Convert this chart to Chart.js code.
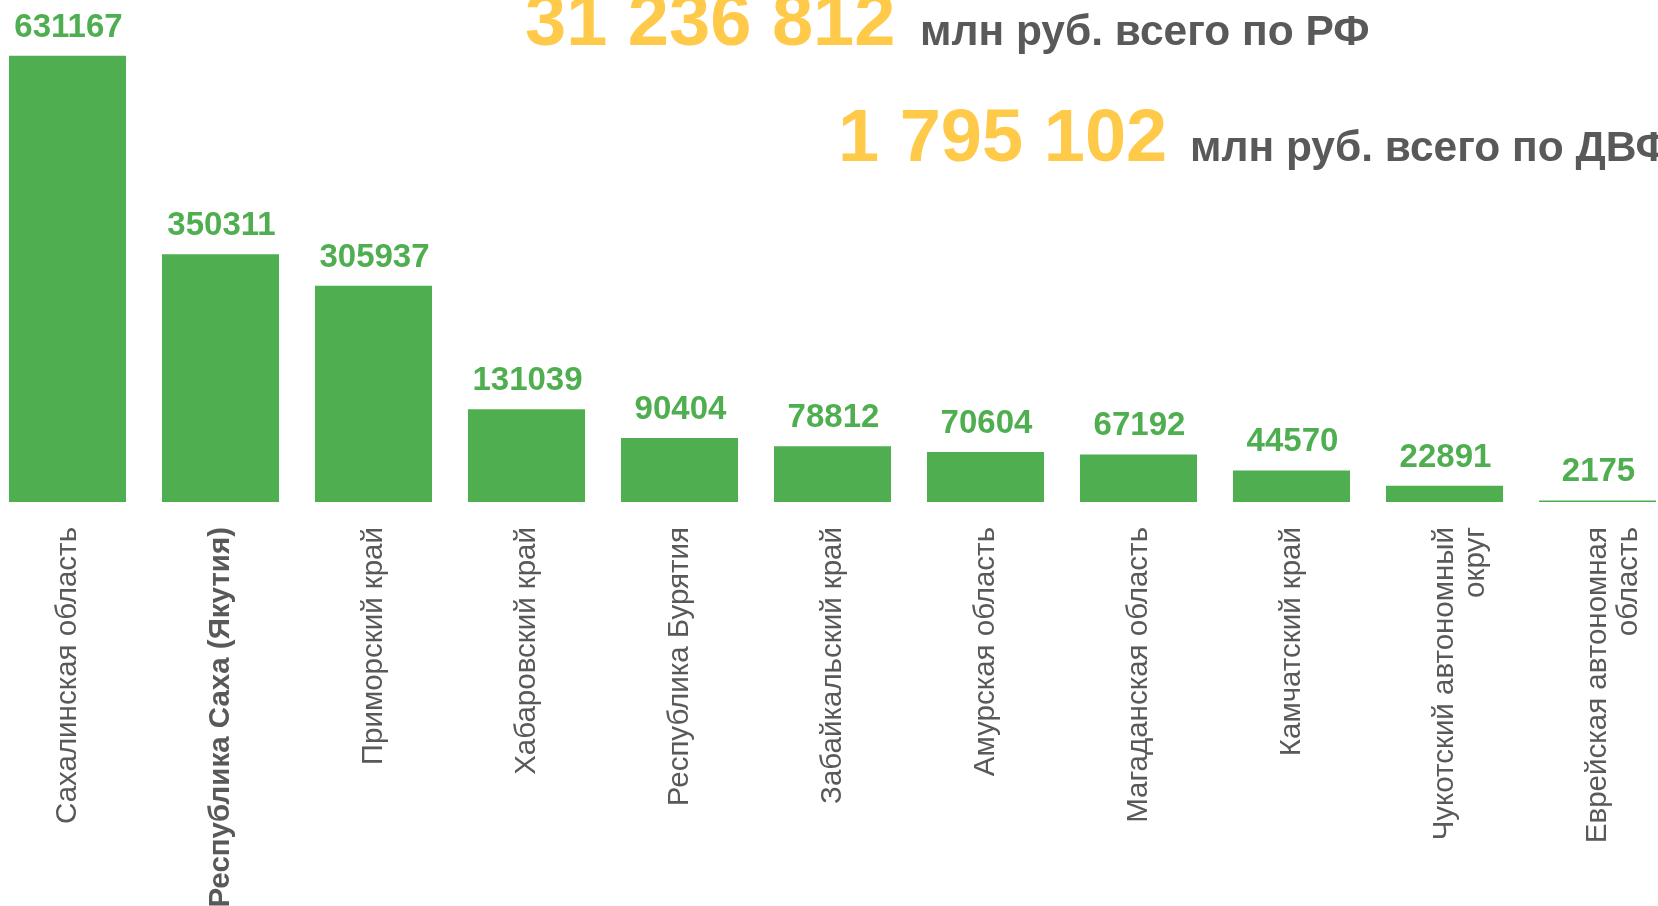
<!DOCTYPE html>
<html>
<head>
<meta charset="utf-8">
<script src="https://cdn.jsdelivr.net/npm/chart.js@4"></script>
<style>
  body { margin: 0; background: #fff; }
  #wrap { width: 1658px; height: 906px; position: relative; }
</style>
</head>
<body>
<div id="wrap"><canvas id="bar-chart"></canvas></div>
<script>
var regions = ["Сахалинская область", "Республика Саха (Якутия)", "Приморский край", "Хабаровский край",
  "Республика Бурятия", "Забайкальский край", "Амурская область", "Магаданская область",
  "Камчатский край", ["Чукотский автономный", "округ"], ["Еврейская автономная", "область"]];
var investments = [631167, 350311, 305937, 131039, 90404, 78812, 70604, 67192, 44570, 22891, 2175];
var totalRF = "31 236 812";
var totalDFO = "1 795 102";
var unitRF = "млн руб. всего по РФ";
var unitDFO = "млн руб. всего по ДВФО";

var green = "#4fae4f";
var grey = "#595959";
var yellow = "#ffc94a";
var family = "'Liberation Sans', Arial, sans-serif";

// подписи значений над столбцами и итоговые суммы сверху
var labelsPlugin = {
  id: "barLabels",
  afterDatasetsDraw: function (chart) {
    var ctx = chart.ctx;
    var meta = chart.getDatasetMeta(0);
    ctx.save();
    ctx.fillStyle = green;
    ctx.font = "bold 33px " + family;
    ctx.textAlign = "center";
    ctx.textBaseline = "alphabetic";
    meta.data.forEach(function (bar, i) {
      ctx.fillText(investments[i], bar.x + 1, bar.y - 19);
    });

    ctx.textAlign = "left";
    ctx.fillStyle = yellow;
    ctx.font = "bold 74px " + family;
    ctx.fillText(totalRF, 525, 45);
    ctx.fillText(totalDFO, 838, 161);
    ctx.fillStyle = grey;
    ctx.font = "bold 42.5px " + family;
    ctx.fillText(unitRF, 920, 45);
    ctx.fillText(unitDFO, 1190, 161);
    ctx.restore();
  }
};

new Chart(document.getElementById("bar-chart"), {
  type: 'bar',
  data: {
    labels: regions,
    datasets: [{
      data: investments,
      backgroundColor: green,
      categoryPercentage: 1,
      barPercentage: 0.765,
      clip: false
    }]
  },
  options: {
    responsive: true,
    maintainAspectRatio: false,
    animation: false,
    layout: { padding: { left: 67.5, right: 60.5, top: 0, bottom: 0 } },
    plugins: {
      legend: { display: false },
      tooltip: { enabled: false }
    },
    scales: {
      x: {
        offset: false,
        grid: { display: false, drawTicks: false },
        border: { display: false },
        afterFit: function (scale) {
          scale.height = 404;
          scale.paddingLeft = 0;
          scale.paddingRight = 0;
        },
        ticks: {
          autoSkip: false,
          maxRotation: 90,
          minRotation: 90,
          padding: 25,
          color: grey,
          font: function (c) {
            return { family: family, size: 29.5, lineHeight: 1.05, weight: c.index === 1 ? 'bold' : 'normal' };
          }
        }
      },
      y: {
        display: false,
        min: 0,
        max: 710000
      }
    }
  },
  plugins: [labelsPlugin]
});
</script>
</body>
</html>
